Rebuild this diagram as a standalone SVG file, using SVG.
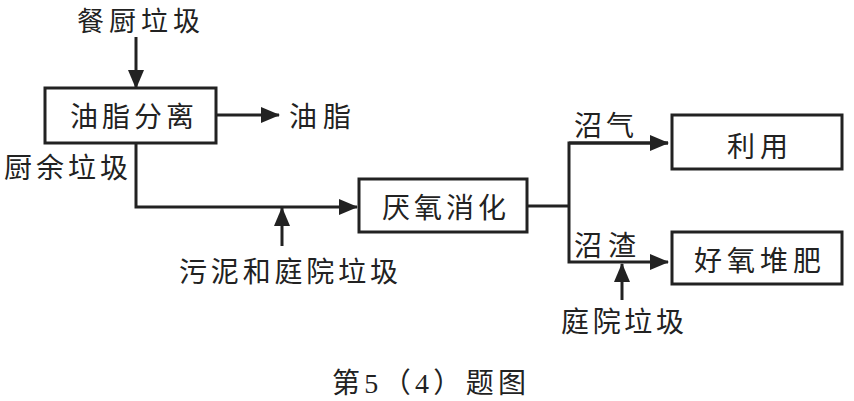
<svg xmlns="http://www.w3.org/2000/svg" width="854" height="401" viewBox="0 0 854 401">
<defs>
<marker id="ah" markerUnits="userSpaceOnUse" markerWidth="20" markerHeight="16" refX="18" refY="8" orient="auto">
<path d="M0,0 L19,8 L0,16 Z" fill="#222"/>
</marker>
<style>
.box{fill:#fff;stroke:#222;stroke-width:3}
.ln{fill:none;stroke:#222;stroke-width:3}
text{font-family:"Noto Sans CJK SC","Noto Sans CJK JP",sans-serif;font-size:28px;fill:#222}
</style>
</defs>
<rect width="854" height="401" fill="#fff"/>
<g id="connectors">
<line class="ln" x1="136" y1="37" x2="136" y2="88" marker-end="url(#ah)"/>
<line class="ln" x1="216" y1="115" x2="279" y2="115" marker-end="url(#ah)"/>
<polyline class="ln" points="136,143 136,207 357,207" marker-end="url(#ah)"/>
<line class="ln" x1="282" y1="246" x2="282" y2="208" marker-end="url(#ah)"/>
<polyline class="ln" points="527,206 569,206"/>
<polyline class="ln" points="668,143 569,143 569,262 668,262" marker-end="url(#ah)"/>
<line class="ln" x1="569" y1="143" x2="668" y2="143" marker-end="url(#ah)"/>
<line class="ln" x1="622" y1="300" x2="622" y2="264" marker-end="url(#ah)"/>
</g>
<g id="n-canchu"><text x="77" y="31" textLength="123" lengthAdjust="spacing" style="font-size:27px">餐厨垃圾</text></g>
<g id="n-youzhifenli"><rect class="box" x="45" y="88" width="171" height="55"/><text x="70" y="127" textLength="124" lengthAdjust="spacing">油脂分离</text></g>
<g id="n-youzhi"><text x="289" y="127" textLength="62" lengthAdjust="spacing">油脂</text></g>
<g id="n-chuyu"><text x="4" y="178" textLength="124" lengthAdjust="spacing">厨余垃圾</text></g>
<g id="n-yanyang"><rect class="box" x="359" y="179" width="168" height="53"/><text x="382" y="218" textLength="124" lengthAdjust="spacing">厌氧消化</text></g>
<g id="n-wuni"><text x="179" y="282" textLength="219" lengthAdjust="spacing">污泥和庭院垃圾</text></g>
<g id="n-liyong"><rect class="box" x="672" y="115" width="170" height="54"/><text x="727" y="157" textLength="61" lengthAdjust="spacing">利用</text></g>
<g id="n-haoyang"><rect class="box" x="672" y="232" width="170" height="52"/><text x="694" y="271" textLength="127" lengthAdjust="spacing">好氧堆肥</text></g>
<g id="n-zhaoqi"><text x="574" y="136" textLength="60" lengthAdjust="spacing">沼气</text></g>
<g id="n-zhaozha"><text x="574" y="256" textLength="62" lengthAdjust="spacing">沼渣</text></g>
<g id="n-tingyuan"><text x="561" y="332" textLength="123" lengthAdjust="spacing">庭院垃圾</text></g>
<g id="caption"><text x="332" y="393" textLength="194" lengthAdjust="spacing" style="font-family:'Liberation Serif','Noto Sans CJK SC',serif">第5（4）题图</text></g>
</svg>
